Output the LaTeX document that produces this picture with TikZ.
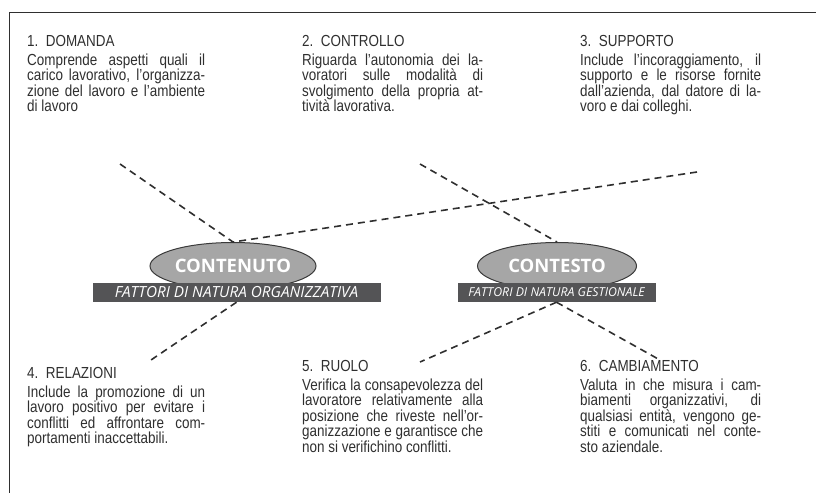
\documentclass[tikz,border=0pt]{standalone}
\usepackage{fontspec}
\setmainfont{Liberation Sans}[FakeStretch=0.84]
\newfontfamily\ovalfont{Open Sans}
\usetikzlibrary{shapes.geometric}
\definecolor{inkgray}{HTML}{2F2F2F}
\definecolor{ovalgray}{HTML}{A6A6A6}
\definecolor{ovalline}{HTML}{3A3A3A}
\definecolor{bargray}{HTML}{545456}

\begin{document}
\begin{tikzpicture}[x=1pt,y=-1pt,
  txt/.style={anchor=north west,inner sep=0pt,text width=#1,align=justify,
     font=\fontsize{16}{15.5}\selectfont,text=inkgray},
  txt/.default=178pt,
  oval/.style={ellipse,draw=ovalline,line width=1pt,fill=ovalgray,text=white,
     minimum width=166pt,minimum height=47pt,inner sep=0pt,
     font=\ovalfont\bfseries\fontsize{18.5}{18.5}\selectfont},
  bar/.style={fill=bargray,text=white,minimum height=19pt,inner sep=0pt,
     font=\ovalfont\itshape\fontsize{15.3}{15.3}\selectfont},
  dashline/.style={draw=inkgray,line width=1.6pt,dash pattern=on 7pt off 5pt}]
\useasboundingbox (0,0) rectangle (816,493);
\draw[inkgray,line width=1pt] (816,12) -- (9,12) -- (9,493);
\node[txt] (domanda) at (27,35.5) {1.\ \ DOMANDA\\[3pt]
  Comprende aspetti quali il\linebreak carico lavorativo, l’organizza-\linebreak
  zione del lavoro e l’ambiente\linebreak di lavoro};
\node[txt=181pt] (controllo) at (302,35.5) {2.\ \ CONTROLLO\\[3pt]
  Riguarda l’autonomia dei la-\linebreak voratori sulle modalità di\linebreak
  svolgimento della propria at-\linebreak tività lavorativa.};
\node[txt=181pt] (supporto) at (580,35.5) {3.\ \ SUPPORTO\\[3pt]
  Include l’incoraggiamento, il\linebreak supporto e le risorse fornite\linebreak
  dall’azienda, dal datore di la-\linebreak voro e dai colleghi.};
\node[oval] (contenuto) at (233,266) {CONTENUTO};
\node[oval,minimum width=159pt] (contesto) at (557,266) {CONTESTO};
\node[bar,minimum width=288pt] (organiz) at (236.5,292.5) {FATTORI DI NATURA ORGANIZZATIVA};
\node[bar,minimum width=198pt,font=\ovalfont\itshape\fontsize{12.3}{12.3}\selectfont]
  (gestion) at (556.5,292.5) {FATTORI DI NATURA GESTIONALE};
\node[txt] (relazioni) at (27,367.5) {4.\ \ RELAZIONI\\[3pt]
  Include la promozione di un\linebreak lavoro positivo per evitare i\linebreak
  conflitti ed affrontare com-\linebreak portamenti inaccettabili.};
\node[txt=181pt] (ruolo) at (302,360.5) {5.\ \ RUOLO\\[3pt]
  Verifica la consapevolezza del\linebreak lavoratore relativamente alla\linebreak
  posizione che riveste nell’or-\linebreak ganizzazione e garantisce che\linebreak
  non si verifichino conflitti.};
\node[txt=181pt] (cambiamento) at (580,360.5) {6.\ \ CAMBIAMENTO\\[3pt]
  Valuta in che misura i cam-\linebreak biamenti organizzativi, di\linebreak
  qualsiasi entità, vengono ge-\linebreak stiti e comunicati nel conte-\linebreak
  sto aziendale.};
\coordinate (d1) at (120,164);
\coordinate (c2) at (420,164);
\coordinate (s3) at (697,172);
\coordinate (r4) at (148,362);
\coordinate (u5) at (420,362);
\coordinate (m6) at (660,360);
\draw[dashline] (d1) -- (contenuto.north);
\draw[dashline] (s3) -- (contenuto.north);
\draw[dashline] (c2) -- (contesto.north);
\draw[dashline] (organiz.south) -- (r4);
\draw[dashline] (gestion.south) -- (u5);
\draw[dashline] (gestion.south) -- (m6);
\end{tikzpicture}
\end{document}
